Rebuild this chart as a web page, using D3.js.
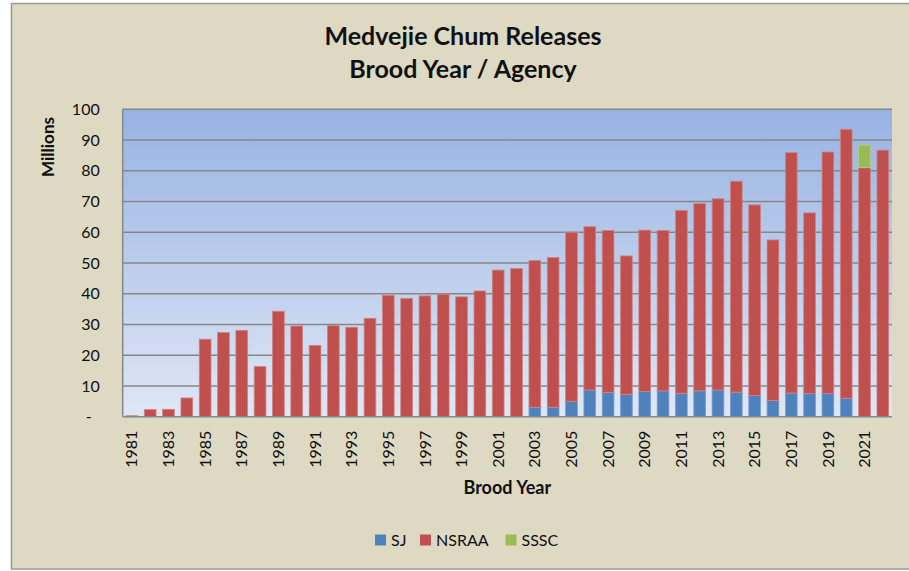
<!DOCTYPE html>
<html><head><meta charset="utf-8">
<script src="https://cdn.jsdelivr.net/npm/d3@7/dist/d3.min.js"></script>
<style>html,body{margin:0;padding:0;background:#fff;} svg{display:block;font-family:Lato,"Open Sans",sans-serif;}</style>
</head><body>
<svg id="c" width="909" height="571"></svg>
<script>
const years = d3.range(1981, 2023).map(String);
const sj = [0,0,0,0,0,0,0,0,0,0,0,0,0,0,0,0,0,0,0,0,0,0,
  3.1,3.1,5.0,8.7,7.9,7.3,8.2,8.4,7.6,8.4,8.7,8.0,6.9,5.3,7.7,7.5,7.5,6.0,0,0];
const totals = [0.3,2.3,2.4,6.1,25.2,27.4,28.1,16.3,34.3,29.5,23.2,29.6,29.1,32.0,39.5,38.5,39.3,39.8,39.0,40.9,47.7,48.2,
  50.8,51.8,60.0,61.8,60.6,52.3,60.7,60.6,67.1,69.3,70.9,76.6,68.9,57.5,85.9,66.3,86.1,93.5,81.0,86.7];
const nsraa = totals.map((t,i)=>+(t - sj[i]).toFixed(1));
const sssc = [0,0,0,0,0,0,0,0,0,0,0,0,0,0,0,0,0,0,0,0,0,0,
  0,0,0,0,0,0,0,0,0,0,0,0,0,0,0,0,0,0,7.4,0];
const yTicks = [0,10,20,30,40,50,60,70,80,90,100];
const seriesNames = ["SJ","NSRAA","SSSC"];
const colors = ["#4f81bd","#c0504d","#9bbb59"];
const strokes = ["#7a9fd0","#d28280","#b7cf86"];

const svg = d3.select("#c");
const m = {l:122.7, r:892, t:109.3, b:416.7};

svg.append("rect").attr("x",11.5).attr("y",3.5).attr("width",910).attr("height",565.5)
  .attr("fill","#ddd9c3").attr("stroke","#999999").attr("stroke-width",1.5);

const defs = svg.append("defs");
const g = defs.append("linearGradient").attr("id","pg").attr("x1",0).attr("y1",0).attr("x2",0).attr("y2",1);
g.append("stop").attr("offset","0%").attr("stop-color","#97b3e3");
g.append("stop").attr("offset","100%").attr("stop-color","#dfe7f5");

const x = d3.scaleBand().domain(years).range([m.l, m.r]).paddingInner(0.36).paddingOuter(0.18);
const y = d3.scaleLinear().domain([0,100]).range([m.b, m.t]);

svg.append("rect").attr("x",m.l).attr("y",m.t).attr("width",m.r-m.l).attr("height",m.b-m.t).attr("fill","url(#pg)");

svg.append("g").selectAll("line").data(yTicks.filter(d=>d>0)).join("line")
  .attr("x1",m.l).attr("x2",m.r).attr("y1",d=>y(d)).attr("y2",d=>y(d))
  .attr("stroke","#878787").attr("stroke-width",1.5);

const rows = years.map((yr,i)=>({year:yr, SJ:sj[i], NSRAA:nsraa[i], SSSC:sssc[i]}));
const stack = d3.stack().keys(seriesNames)(rows);
svg.append("g").selectAll("g").data(stack).join("g")
  .attr("fill",(d,i)=>colors[i]).attr("stroke",(d,i)=>strokes[i]).attr("stroke-width",0.8)
  .selectAll("rect").data(d=>d.filter(p=>p[1]-p[0]>0)).join("rect")
  .attr("x",d=>x(d.data.year)).attr("width",x.bandwidth())
  .attr("y",d=>y(d[1])).attr("height",d=>y(d[0])-y(d[1]));

svg.append("line").attr("x1",m.l).attr("x2",m.l).attr("y1",m.t).attr("y2",m.b).attr("stroke","#878787").attr("stroke-width",1.5);
svg.append("line").attr("x1",m.l).attr("x2",m.r).attr("y1",m.b).attr("y2",m.b).attr("stroke","#878787").attr("stroke-width",1.5);

const ya = svg.append("g").attr("transform",`translate(${m.l},0)`)
  .call(d3.axisLeft(y).tickValues(yTicks).tickSize(0).tickPadding(23).tickFormat(d=>d===0?"-":d));
ya.select(".domain").remove();
ya.selectAll("text").attr("font-size",16).attr("fill","#111").attr("font-family","Lato,sans-serif");
ya.selectAll(".tick").filter(d=>d===0).select("text").attr("dx",-8);

const xa = svg.append("g").attr("transform",`translate(0,${m.b})`)
  .call(d3.axisBottom(x).tickValues(years.filter((d,i)=>i%2===0)).tickSize(0));
xa.select(".domain").remove();
xa.selectAll("text").attr("font-size",16).attr("fill","#111").attr("font-family","Lato,sans-serif")
  .attr("transform","rotate(-90)").attr("text-anchor","end").attr("dy","0.35em").attr("x",-14).attr("y",0);

svg.append("text").attr("x",463).attr("y",45).attr("text-anchor","middle").attr("font-size",25).attr("font-weight","bold").attr("fill","#111").text("Medvejie Chum Releases");
svg.append("text").attr("x",463).attr("y",78).attr("text-anchor","middle").attr("font-size",25).attr("font-weight","bold").attr("fill","#111").text("Brood Year / Agency");
svg.append("text").attr("transform","translate(54,147) rotate(-90)").attr("text-anchor","middle").attr("font-size",17).attr("font-weight","bold").attr("fill","#111").text("Millions");
svg.append("text").attr("x",(m.l+m.r)/2).attr("y",494).attr("text-anchor","middle").attr("font-size",18).attr("font-weight","bold").attr("fill","#111").text("Brood Year");

const legX = [375,420,505.5];
const lg = svg.append("g").selectAll("g").data(seriesNames).join("g").attr("transform",(d,i)=>`translate(${legX[i]},534.5)`);
lg.append("rect").attr("width",11).attr("height",11).attr("fill",(d,i)=>colors[i]);
lg.append("text").attr("x",16).attr("y",5.5).attr("dy","0.35em").attr("font-size",16).attr("fill","#111").text(d=>d);
</script>
</body></html>
